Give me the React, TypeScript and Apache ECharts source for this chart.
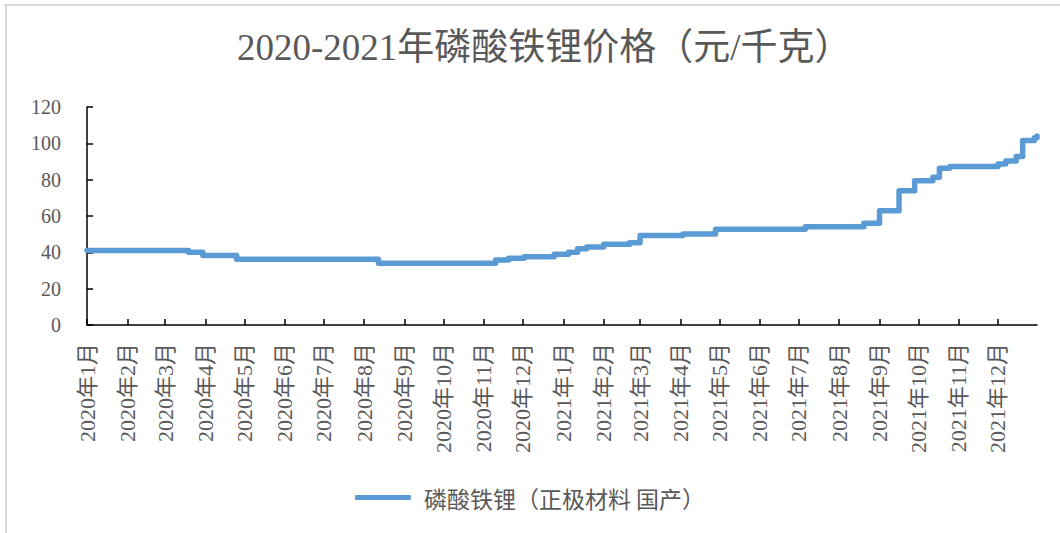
import React, { useEffect, useRef } from "react";
import * as echarts from "echarts";

const titleText = "2020-2021年磷酸铁锂价格（元/千克）";
const seriesName = "磷酸铁锂（正极材料 国产）";

// Dates where the price changes, and the price from that date on
const changeDates = [
  "2020-01-01", "2020-03-19", "2020-03-30", "2020-04-25", "2020-08-12",
  "2020-11-10", "2020-11-20", "2020-12-02", "2020-12-25", "2021-01-05",
  "2021-01-12", "2021-01-19", "2021-02-01", "2021-02-21", "2021-03-01",
  "2021-04-03", "2021-04-28", "2021-07-06", "2021-08-20", "2021-09-01",
  "2021-09-16", "2021-09-28", "2021-10-12", "2021-10-17", "2021-10-25",
  "2021-12-01", "2021-12-07", "2021-12-15", "2021-12-20", "2021-12-29",
  "2021-12-31",
];
const prices = [
  41, 40, 38.2, 36.2, 34,
  35.8, 36.7, 37.6, 38.9, 40,
  42, 42.9, 44.4, 45.3, 49.2,
  50.1, 52.7, 54.1, 56, 62.9,
  73.9, 79.4, 81.3, 86.3, 87.2,
  88.6, 90.3, 92.7, 101.5, 103.1,
  104,
];

const axisStart = "2020-01-01";
const axisEnd = "2021-12-31";

const serifFont = "'Liberation Serif', 'Noto Sans CJK SC', serif";
const cjkFont = "'Noto Sans CJK SC', sans-serif";
const textColor = "#595959";
const lineColor = "#5B9BD5";

export default function App() {
  const ref = useRef<HTMLDivElement>(null);

  useEffect(() => {
    if (!ref.current) return;
    const chart = echarts.init(ref.current, undefined, { renderer: "svg" });
    const data = changeDates.map((d, i) => [d, prices[i]]);
    const DAY = 86400000;
    chart.setOption({
      animation: false,
      backgroundColor: "#ffffff",
      title: {
        text: titleText,
        left: 232,
        top: 24,
        textStyle: {
          fontFamily: serifFont,
          fontSize: 37,
          fontWeight: "normal",
          color: textColor,
        },
      },
      graphic: [
        { type: "rect", shape: { x: 4, y: 4, width: 1056, height: 2 }, style: { fill: "#d9d9d9" }, silent: true },
        { type: "rect", shape: { x: 5, y: 4, width: 2, height: 529 }, style: { fill: "#d9d9d9" }, silent: true },
      ],
      legend: {
        left: "center",
        top: 481,
        icon: "roundRect",
        itemWidth: 56,
        itemHeight: 5,
        itemGap: 12,
        textStyle: { fontFamily: cjkFont, fontSize: 23, color: textColor, padding: [0, 0, 0, 8] },
        data: [seriesName],
      },
      grid: { left: 87, right: 23, top: 107, bottom: 208, containLabel: false },
      xAxis: {
        type: "time",
        min: axisStart,
        max: axisEnd,
        splitNumber: 24,
        minInterval: 28 * DAY,
        maxInterval: 31 * DAY,
        axisLine: { show: true, lineStyle: { color: "#000000", width: 1.5 } },
        axisTick: { show: true, inside: true, length: 6, lineStyle: { color: "#000000", width: 1.5 } },
        splitLine: { show: false },
        axisLabel: {
          rotate: 90,
          margin: 18,
          fontFamily: serifFont,
          fontSize: 22,
          color: textColor,
          showMaxLabel: false,
          hideOverlap: false,
          formatter: (v: number) => {
            const d = new Date(v);
            return `${d.getFullYear()}年${d.getMonth() + 1}月`;
          },
        },
      },
      yAxis: {
        type: "value",
        min: 0,
        max: 120,
        interval: 20,
        axisLine: { show: true, lineStyle: { color: "#000000", width: 1.5 } },
        axisTick: { show: true, inside: true, length: 6, lineStyle: { color: "#000000", width: 1.5 } },
        splitLine: { show: false },
        axisLabel: {
          margin: 26,
          fontFamily: serifFont,
          fontSize: 20,
          color: textColor,
        },
      },
      series: [
        {
          name: seriesName,
          type: "line",
          step: "end",
          data,
          symbol: "none",
          itemStyle: { color: lineColor },
          lineStyle: { color: lineColor, width: 5.5, cap: "round", join: "round" },
        },
      ],
    });
    return () => chart.dispose();
  }, []);

  return (
    <div
      ref={ref}
      style={{ position: "fixed", left: 0, top: 0, width: 1060, height: 533, background: "#fff" }}
    />
  );
}
